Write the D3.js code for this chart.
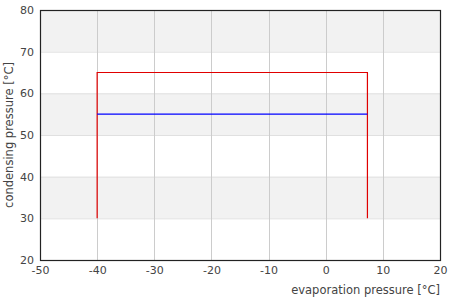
<!DOCTYPE html>
<html>
<head>
<meta charset="utf-8">
<script src="https://cdn.jsdelivr.net/npm/d3@7"></script>
<style>
  body { margin: 0; background: #fff; }
  text { font-family: "DejaVu Sans", sans-serif; fill: #444; }
</style>
</head>
<body>
<div id="chart"></div>
<script>
// chart data
let xTicks = [-50, -40, -30, -20, -10, 0, 10, 20];
let yTicks = [20, 30, 40, 50, 60, 70, 80];
let bands = [[30, 40], [50, 60], [70, 80]];
let cycleX = [-40, -40, 7.3, 7.3];
let cycleY = [30, 65, 65, 30];
let targetX = [-40, 7.3];
let targetY = [55, 55];

let svgWidth = 450, svgHeight = 300;
let margin = {top: 10, right: 10, bottom: 40, left: 40};
let width = svgWidth - margin.left - margin.right;
let height = svgHeight - margin.top - margin.bottom;

let svg = d3.select("#chart").append("svg")
  .attr("width", svgWidth)
  .attr("height", svgHeight);

let g = svg.append("g")
  .attr("transform", `translate(${margin.left},${margin.top})`);

let x = d3.scaleLinear().domain([-50, 20]).range([0, width]);
let y = d3.scaleLinear().domain([20, 80]).range([height, 0]);

// gray bands
g.selectAll("rect.band").data(bands).enter().append("rect")
  .attr("x", 0)
  .attr("width", width)
  .attr("y", d => y(d[1]))
  .attr("height", d => y(d[0]) - y(d[1]))
  .attr("fill", "#f2f2f2");

// horizontal grid
g.selectAll("line.hgrid").data(yTicks.slice(1, -1)).enter().append("line")
  .attr("x1", 0).attr("x2", width)
  .attr("y1", d => y(d) + 0.5).attr("y2", d => y(d) + 0.5)
  .attr("stroke", "#e0e0e0");

// vertical grid
g.selectAll("line.vgrid").data(xTicks.slice(1, -1)).enter().append("line")
  .attr("y1", 0).attr("y2", height)
  .attr("x1", d => Math.round(x(d)) + 0.5).attr("x2", d => Math.round(x(d)) + 0.5)
  .attr("stroke", "#cccccc");

// axes (plain hyphen minus like the original)
let xAxis = g.append("g")
  .attr("transform", `translate(0,${height})`)
  .call(d3.axisBottom(x).tickValues(xTicks).tickFormat(d => String(d)).tickSize(0).tickPadding(6));
let yAxis = g.append("g")
  .call(d3.axisLeft(y).tickValues(yTicks).tickFormat(d => String(d)).tickSize(0).tickPadding(6));
[xAxis, yAxis].forEach(a => {
  a.select(".domain").remove();
  a.selectAll("text").attr("font-size", "11px").attr("fill", "#444")
    .attr("font-family", "DejaVu Sans, sans-serif");
});

// frame
g.append("rect")
  .attr("x", 0.5).attr("y", 0.5)
  .attr("width", width).attr("height", height)
  .attr("fill", "none")
  .attr("stroke", "#222")
  .attr("stroke-width", 1.2);

let line = d3.line().x(d => x(d[0])).y(d => y(d[1]));

// cycle outline
g.append("path")
  .datum(cycleX.map((v, i) => [v, cycleY[i]]))
  .attr("d", line)
  .attr("fill", "none")
  .attr("stroke", "#e00000")
  .attr("stroke-width", 1.2);

// blue line
g.append("path")
  .datum(targetX.map((v, i) => [v, targetY[i]]))
  .attr("d", line)
  .attr("fill", "none")
  .attr("stroke", "#0000ff")
  .attr("stroke-width", 1.2);

// axis titles
svg.append("text")
  .attr("x", margin.left + width)
  .attr("y", 294)
  .attr("text-anchor", "end")
  .attr("font-size", "11.5px")
  .text("evaporation pressure [°C]");

svg.append("text")
  .attr("transform", `translate(13,${margin.top + height / 2}) rotate(-90)`)
  .attr("text-anchor", "middle")
  .attr("font-size", "11.5px")
  .text("condensing pressure [°C]");
</script>
</body>
</html>
